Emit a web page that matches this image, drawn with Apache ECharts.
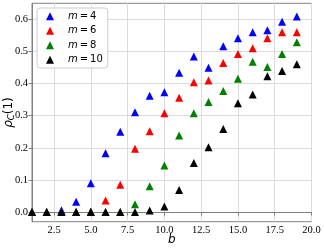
<!DOCTYPE html>
<html><head><meta charset="utf-8">
<script src="https://cdn.jsdelivr.net/npm/echarts@6/dist/echarts.min.js"></script>
<style>html,body{margin:0;padding:0;background:#fff}#c{width:324px;height:249px}</style>
</head><body><div id="c"></div>
<script>
const bValues = [1,2,3,4,5,6,7,8,9,10,11,12,13,14,15,16,17,18,19];
const m4  = [0,0,0.006,0.032,0.090,0.183,0.250,0.311,0.3625,0.373,0.434,0.484,0.449,0.516,0.541,0.5595,0.566,0.5925,0.609];
const m6  = [0,0,0,0,0.002,0.036,0.085,0.197,0.252,0.308,0.356,0.404,0.410,0.464,0.492,0.510,0.541,0.5595,0.5595];
const m8  = [0,0,0,0,0,0,0,0.024,0.080,0.145,0.238,0.308,0.343,0.377,0.415,0.468,0.452,0.492,0.5285];
const m10 = [0,0,0,0,0,0,0,0,0.005,0.0175,0.069,0.153,0.202,0.259,0.339,0.366,0.423,0.439,0.460];
const seriesNames = ['4','6','8','10'];
const seriesColors = ['#0000ff','#ff0000','#008000','#000000'];
const xTicks = [2.5,5,7.5,10,12.5,15,17.5,20];
const yTicks = [0,0.1,0.2,0.3,0.4,0.5,0.6];

const allSeries = [m4,m6,m8,m10];
const chart = echarts.init(document.getElementById('c'), null, {renderer:'canvas'});
const axisColor = '#808080';
const gridColor = '#dcdcdc';
const tickFont = {fontFamily:'Liberation Serif', fontSize:10.5, color:'#000'};
chart.setOption({
  animation:false,
  backgroundColor:'#fff',
  grid:{left:32, top:3.3, right:12.5, bottom:27.3, show:true, borderColor:axisColor, borderWidth:1, backgroundColor:'transparent', outerBoundsMode:'none'},
  xAxis:{type:'value', min:1, max:20,
    axisLine:{show:true, lineStyle:{color:axisColor}},
    axisTick:{show:true, length:3.5, lineStyle:{color:axisColor}, customValues:xTicks},
    axisLabel:Object.assign({margin:3.5, customValues:xTicks, formatter:v=>v.toFixed(1)}, tickFont),
    splitLine:{show:true, lineStyle:{color:gridColor, width:1}},
    name:'b', nameLocation:'middle', nameGap:12, nameMoveOverlap:false,
    nameTextStyle:{fontFamily:'DejaVu Sans', fontStyle:'italic', fontSize:12, color:'#000'}
  },
  yAxis:{type:'value', min:-0.03, max:0.65,
    axisLine:{show:true, lineStyle:{color:axisColor}},
    axisTick:{show:true, length:3.5, lineStyle:{color:axisColor}, customValues:yTicks},
    axisLabel:Object.assign({margin:4, customValues:yTicks, formatter:v=>v.toFixed(1)}, tickFont),
    splitLine:{show:true, lineStyle:{color:gridColor, width:1}},
    name:'{r|ρ}{s|C}{n|(1)}', nameLocation:'middle', nameGap:16, nameRotate:90, nameMoveOverlap:false,
    nameTextStyle:{color:'#000', rich:{
      r:{fontFamily:'DejaVu Sans', fontStyle:'italic', fontSize:12, lineHeight:14, verticalAlign:'middle', color:'#000'},
      s:{fontFamily:'DejaVu Sans', fontStyle:'italic', fontSize:8.5, lineHeight:14, verticalAlign:'bottom', color:'#000'},
      n:{fontFamily:'DejaVu Sans', fontSize:12, lineHeight:14, verticalAlign:'middle', color:'#000'}
    }}
  },
  legend:{left:37, top:8, orient:'vertical', itemWidth:8, itemHeight:8, itemGap:0,
    padding:[1,5,1,9], backgroundColor:'#fff', borderColor:'#cccccc', borderWidth:1, borderRadius:3,
    textStyle:{fontFamily:'DejaVu Sans', fontSize:10, lineHeight:14.5, color:'#000',
      rich:{i:{fontFamily:'DejaVu Sans', fontStyle:'italic', fontSize:10, lineHeight:14.5, color:'#000', padding:[0,0,0,9]},
            t:{fontFamily:'DejaVu Sans', fontSize:10, lineHeight:14.5, color:'#000'}}},
    formatter:name=>'{i|m}{t|\u2009=\u2009' + name + '}'
  },
  series: allSeries.map((vals,k)=>({
    type:'scatter', name:seriesNames[k], symbol:'triangle', symbolSize:8,
    itemStyle:{color:seriesColors[k], opacity:1},
    data: bValues.map((b,i)=>[b, vals[i]]),
    z: 2 + k
  }))
});
</script></body></html>
